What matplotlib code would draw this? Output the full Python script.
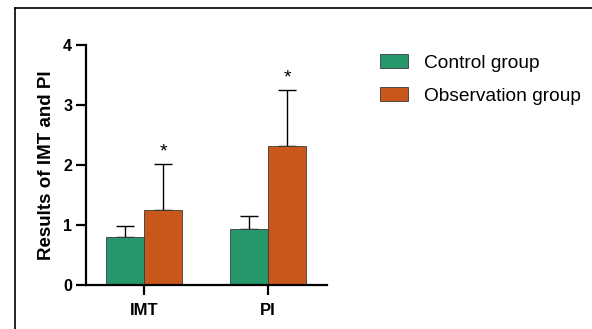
import matplotlib
matplotlib.use("Agg")
import matplotlib.pyplot as plt
from matplotlib.lines import Line2D
import numpy as np

plt.rcParams['font.family'] = ['Liberation Sans', 'DejaVu Sans']

categories = ["IMT", "PI"]
series_names = ["Control group", "Observation group"]
control_mean = [0.80, 0.94]
control_sd = [0.18, 0.21]
obs_mean = [1.25, 2.31]
obs_sd = [0.76, 0.94]
significance = ["*", "*"]
y_ticks = [0, 1, 2, 3, 4]

green = "#26966B"
orange = "#C9561A"

fig = plt.figure(figsize=(5.92, 3.29), dpi=100)
ax = fig.add_axes([86/592, 1-285/329, (327-86)/592, 240/329])

x = np.arange(len(categories))
w = 0.31
b1 = ax.bar(x - w/2, control_mean, w, color=green, edgecolor="#3a3a3a", linewidth=0.6,
            label=series_names[0], zorder=2)
b2 = ax.bar(x + w/2, obs_mean, w, color=orange, edgecolor="#3a3a3a", linewidth=0.6,
            label=series_names[1], zorder=2)
ax.errorbar(x - w/2, control_mean, yerr=[np.zeros(len(x)), control_sd], fmt="none",
            ecolor="black", elinewidth=1.0, capsize=6.5, capthick=1.0, zorder=1)
ax.errorbar(x + w/2, obs_mean, yerr=[np.zeros(len(x)), obs_sd], fmt="none",
            ecolor="black", elinewidth=1.0, capsize=6.5, capthick=1.0, zorder=1)
for xi, m, s, t in zip(x + w/2, obs_mean, obs_sd, significance):
    ax.text(xi, m + s + 0.06, t, ha="center", va="bottom", fontsize=14, color="black")

ax.set_xlim(-0.468, 1.476)
ax.set_ylim(0, 4)
ax.set_yticks(y_ticks)
ax.set_xticks(x)
ax.set_xticklabels(categories, fontsize=12, fontweight="bold")
ax.set_yticklabels([str(v) for v in y_ticks], fontsize=11.5, fontweight="bold")
ax.set_ylabel("Results of IMT and PI", fontsize=13.5, fontweight="bold", labelpad=6)
for s in ["top", "right"]:
    ax.spines[s].set_visible(False)
for s in ["left", "bottom"]:
    ax.spines[s].set_linewidth(1.6)
ax.tick_params(axis="both", width=1.6, length=7, direction="out", pad=3)
ax.tick_params(axis="x", pad=6)

leg = fig.legend(handles=[b1, b2], labels=series_names, loc="upper left",
                 bbox_to_anchor=(380/592, 1-54/329), frameon=False, fontsize=13.8,
                 handlelength=1.45, handleheight=0.75, handletextpad=0.85, labelspacing=0.8,
                 borderaxespad=0, borderpad=0)

# outer border
fig.add_artist(Line2D([15/592, 15/592], [0, 1-8/329], transform=fig.transFigure, color="black", lw=1.2))
fig.add_artist(Line2D([15/592, 1], [1-8/329, 1-8/329], transform=fig.transFigure, color="black", lw=1.2))

fig.savefig("out.png", dpi=100)
